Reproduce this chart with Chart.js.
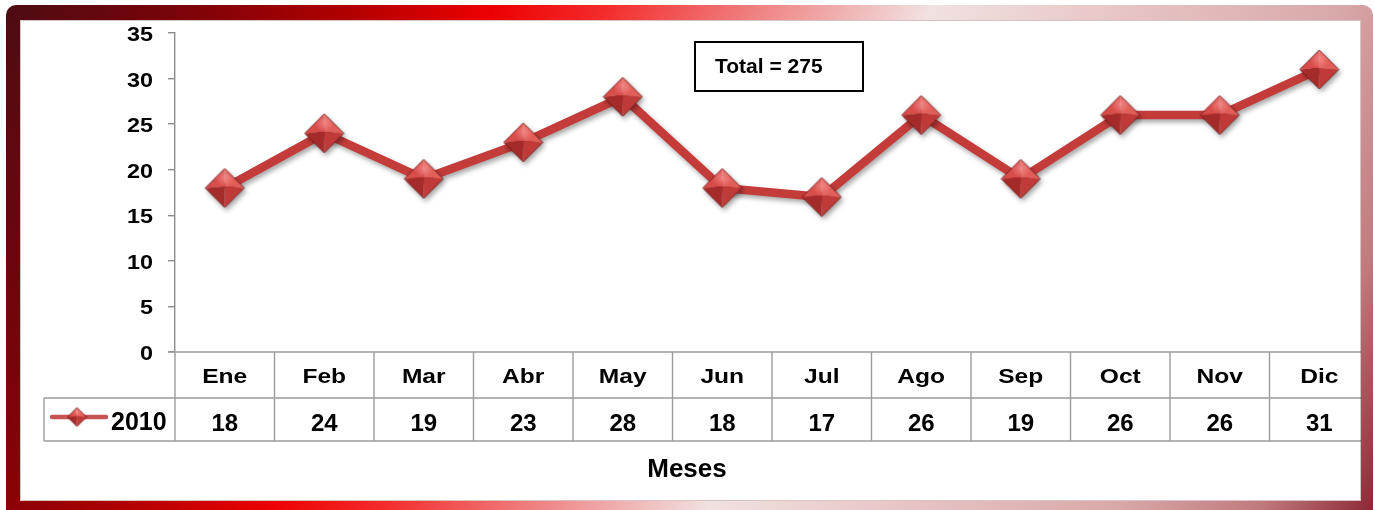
<!DOCTYPE html>
<html>
<head>
<meta charset="utf-8">
<script src="https://cdn.jsdelivr.net/npm/chart.js@4"></script>
<style>
  html, body { margin: 0; padding: 0; background: #ffffff; }
  #grafico { display: block; }
</style>
</head>
<body>
<canvas id="grafico" width="1374" height="510"></canvas>
<script>
// Casos por mes, año 2010
const meses = ['Ene', 'Feb', 'Mar', 'Abr', 'May', 'Jun', 'Jul', 'Ago', 'Sep', 'Oct', 'Nov', 'Dic'];
const valores2010 = [18, 24, 19, 23, 28, 18, 17, 26, 19, 26, 26, 31];
const nombreSerie = '2010';
const ejeYMin = 0;
const ejeYMax = 35;
const ejeYPaso = 5;
const tituloEjeX = 'Meses';

const FUENTE = '"Liberation Sans", Arial, sans-serif';
const LINEA_TABLA = '#9c9c9c';
const COLOR_LINEA = '#c33c3a';

// Texto en negrita con un leve ensanchamiento horizontal
function texto(ctx, s, x, y, size, align, sx) {
  ctx.save();
  ctx.font = 'bold ' + size + 'px ' + FUENTE;
  ctx.textBaseline = 'alphabetic';
  ctx.textAlign = 'left';
  const w = ctx.measureText(s).width * sx;
  const left = align === 'center' ? x - w / 2 : (align === 'right' ? x - w : x);
  ctx.translate(left, y);
  ctx.scale(sx, 1);
  ctx.fillStyle = '#000000';
  ctx.fillText(s, 0, 0);
  ctx.restore();
}

// Marcador en forma de rombo con caras sombreadas (efecto pirámide)
function rombo(r) {
  const s = Math.ceil(2 * r + 2);
  const c = document.createElement('canvas');
  c.width = s; c.height = s;
  const g = c.getContext('2d');
  const cx = s / 2, cy = s / 2;
  const T = [cx, cy - r], R = [cx + r, cy], B = [cx, cy + r], L = [cx - r, cy], C = [cx, cy - r * 0.08];
  const tri = (a, b, d, col) => {
    g.beginPath(); g.moveTo(a[0], a[1]); g.lineTo(b[0], b[1]); g.lineTo(d[0], d[1]); g.closePath();
    g.fillStyle = col; g.fill();
  };
  tri(T, L, C, '#d84c49');
  tri(T, R, C, '#e25e58');
  tri(L, B, C, '#a52b2b');
  tri(R, B, C, '#c03a38');
  const hl = g.createRadialGradient(cx, cy - r * 0.55, 0, cx, cy - r * 0.55, r * 0.5);
  hl.addColorStop(0, 'rgba(255,170,170,0.55)');
  hl.addColorStop(1, 'rgba(255,170,170,0)');
  g.beginPath(); g.moveTo(T[0], T[1]); g.lineTo(R[0], R[1]); g.lineTo(B[0], B[1]); g.lineTo(L[0], L[1]); g.closePath();
  g.save(); g.clip(); g.fillStyle = hl; g.fillRect(0, 0, s, s); g.restore();
  g.strokeStyle = 'rgba(110,25,25,0.85)'; g.lineWidth = 1;
  g.stroke();
  return c;
}

const marcador = rombo(19.5);
const marcadorLeyenda = rombo(9.5);

// Sombra suave para la línea y los marcadores
const sombraSerie = {
  id: 'sombraSerie',
  beforeDatasetsDraw(chart) {
    const ctx = chart.ctx;
    ctx.save();
    ctx.shadowColor = 'rgba(0,0,0,0.35)';
    ctx.shadowBlur = 5;
    ctx.shadowOffsetX = 2;
    ctx.shadowOffsetY = 3;
  },
  afterDatasetsDraw(chart) { chart.ctx.restore(); }
};

// Etiquetas del eje Y, tabla de datos, título del eje, cuadro del total y marco
const tablaYMarco = {
  id: 'tablaYMarco',
  afterDraw(chart) {
    const ctx = chart.ctx;
    const x = chart.scales.x;
    const y = chart.scales.y;
    const area = chart.chartArea;
    const n = meses.length;
    const anchoCol = (area.right - area.left) / n;

    // Etiquetas del eje Y
    y.ticks.forEach(t => {
      const py = y.getPixelForValue(t.value);
      texto(ctx, String(t.value), 153, py + 8, 20, 'right', 1.17);
    });

    // Tabla de datos bajo el eje X
    const yCab = area.bottom;        // borde superior de la fila de meses
    const yFila = yCab + 46;         // borde entre meses y valores
    const yFin = yFila + 43;         // borde inferior de la tabla
    const xLeyenda = 44;

    ctx.save();
    ctx.strokeStyle = LINEA_TABLA;
    ctx.lineWidth = 1.4;
    ctx.beginPath();
    ctx.moveTo(area.left - 7, yCab); ctx.lineTo(area.right, yCab);
    ctx.moveTo(xLeyenda, yFila); ctx.lineTo(area.right, yFila);
    ctx.moveTo(xLeyenda, yFin); ctx.lineTo(area.right, yFin);
    ctx.moveTo(xLeyenda, yFila); ctx.lineTo(xLeyenda, yFin);
    for (let i = 0; i <= n; i++) {
      const px = x.getPixelForValue(i) - anchoCol / 2;
      ctx.moveTo(px, yCab); ctx.lineTo(px, yFin);
    }
    ctx.stroke();
    ctx.restore();

    meses.forEach((m, i) => {
      const px = x.getPixelForValue(i);
      texto(ctx, m, px, yCab + 31, 21, 'center', 1.17);
      texto(ctx, String(valores2010[i]), px, yFila + 33, 24, 'center', 1.0);
    });

    // Clave de la serie
    const yl = (yFila + yFin) / 2 - 2.5;
    ctx.save();
    ctx.strokeStyle = '#c65452';
    ctx.lineWidth = 4.5;
    ctx.lineCap = 'round';
    ctx.beginPath(); ctx.moveTo(52, yl); ctx.lineTo(106, yl); ctx.stroke();
    ctx.drawImage(marcadorLeyenda, 77 - marcadorLeyenda.width / 2, yl - marcadorLeyenda.height / 2);
    ctx.restore();
    texto(ctx, nombreSerie, 111, yFila + 32, 25, 'left', 1.0);

    // Título del eje X
    texto(ctx, tituloEjeX, chart.width / 2, 477, 26, 'center', 1.0);

    // Cuadro con el total
    const total = valores2010.reduce((a, b) => a + b, 0);
    ctx.save();
    ctx.fillStyle = '#ffffff';
    ctx.fillRect(695, 42, 168, 49);
    ctx.strokeStyle = '#000000';
    ctx.lineWidth = 2;
    ctx.strokeRect(695, 42, 168, 49);
    ctx.restore();
    texto(ctx, 'Total = ' + total, 715, 73, 21, 'left', 1.0);

    // Marco degradado
    const H = chart.height;
    ctx.save();
    const grad = ctx.createLinearGradient(0, 0, 1333, 594);
    grad.addColorStop(0.00, '#4a0c14');
    grad.addColorStop(0.12, '#7c0309');
    grad.addColorStop(0.22, '#b00000');
    grad.addColorStop(0.31, '#ec0000');
    grad.addColorStop(0.38, '#f42a2a');
    grad.addColorStop(0.47, '#ef7c7c');
    grad.addColorStop(0.585, '#f1e1e1');
    grad.addColorStop(0.70, '#e8c6c6');
    grad.addColorStop(0.84, '#d9a9a9');
    grad.addColorStop(0.93, '#c07a7e');
    grad.addColorStop(1.00, '#8e2a38');
    ctx.beginPath();
    ctx.roundRect(6, 5, 1367, H - 5 + 10, 10);
    ctx.rect(20, 20, 1341, 481);
    ctx.fillStyle = grad;
    ctx.fill('evenodd');
    ctx.strokeStyle = 'rgba(90,20,20,0.25)';
    ctx.lineWidth = 1;
    ctx.strokeRect(20.5, 20.5, 1340, 480);
    ctx.restore();
  }
};

new Chart(document.getElementById('grafico'), {
  type: 'line',
  data: {
    labels: meses,
    datasets: [{
      label: nombreSerie,
      data: valores2010,
      borderColor: COLOR_LINEA,
      borderWidth: 8.5,
      tension: 0,
      fill: false,
      pointStyle: marcador,
      pointRadius: 19,
      pointHoverRadius: 19
    }]
  },
  options: {
    responsive: false,
    animation: false,
    events: [],
    layout: { autoPadding: false, padding: { left: 20, top: 33, right: 5, bottom: 158 } },
    plugins: { legend: { display: false }, tooltip: { enabled: false } },
    scales: {
      x: {
        type: 'category',
        offset: true,
        display: false,
        ticks: { display: false },
        grid: { display: false },
        afterFit(scale) {
          scale.height = 0;
          scale.paddingLeft = 0;
          scale.paddingRight = 0;
        }
      },
      y: {
        min: ejeYMin,
        max: ejeYMax,
        ticks: { stepSize: ejeYPaso, display: false },
        grid: { display: true, drawOnChartArea: false, drawTicks: true, tickLength: 7, color: '#8c8c8c', lineWidth: 1.4 },
        border: { display: true, color: '#8c8c8c', width: 1.4 },
        afterFit(scale) {
          scale.width = 155;
          scale.paddingTop = 0;
          scale.paddingBottom = 0;
        }
      }
    }
  },
  plugins: [sombraSerie, tablaYMarco]
});
</script>
</body>
</html>
